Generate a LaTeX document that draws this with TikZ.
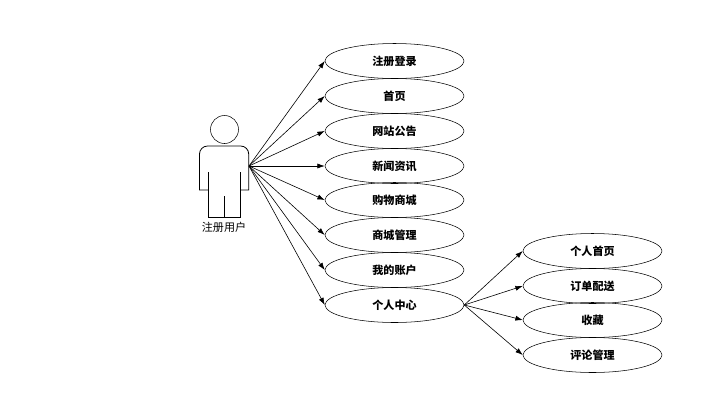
\documentclass[tikz,border=0pt]{standalone}
\usepackage{fontspec}
\newfontfamily\cjk{Noto Sans CJK SC}
\usetikzlibrary{shapes.geometric,arrows.meta}
\tikzset{
  usecase/.style={draw,ellipse,minimum width=104.25pt,minimum height=26.25pt,inner sep=0pt,
    font=\cjk\fontsize{8.3}{8.3}\selectfont\bfseries},
  link/.style={-{Latex[length=5.5pt,width=3.8pt]},line width=0.45pt},
}
\begin{document}
\begin{tikzpicture}[x=0.75pt,y=-0.75pt]
\useasboundingbox (0,0) rectangle (715,405);

\node[draw,circle,minimum size=21pt,inner sep=0pt] (head) at (224.5,129.5) {};
\draw[line width=0.6pt] (208,190)--(199.5,190)--(199.5,154) arc[start angle=180,end angle=90,radius=6pt]
  --(240.7,146) arc[start angle=90,end angle=0,radius=6pt]--(248.7,190)--(240.3,190);
\draw[line width=0.6pt] (208,172)--(208,217.7)--(240.3,217.7)--(240.3,172);
\draw[line width=0.6pt] (224.5,196)--(224.5,217.7);
\node[font=\cjk\fontsize{8.3}{8.3}\selectfont] (actorlabel) at (224,227) {注册用户};
\coordinate (hand) at (249,166);

\node[usecase] (login) at (394.5,61) {注册登录};
\node[usecase] (home) at (394.5,96) {首页};
\node[usecase] (notice) at (394.5,131) {网站公告};
\node[usecase] (news) at (394.5,166) {新闻资讯};
\node[usecase] (shop) at (394.5,200) {购物商城};
\node[usecase] (manage) at (394.5,235) {商城管理};
\node[usecase] (account) at (394.5,270) {我的账户};
\node[usecase] (center) at (394.5,305) {个人中心};

\node[usecase] (myhome) at (592.5,251) {个人首页};
\node[usecase] (orders) at (592.5,286) {订单配送};
\node[usecase] (favour) at (592.5,320) {收藏};
\node[usecase] (review) at (592.5,355) {评论管理};

\draw[link] (hand)--(login.west);
\draw[link] (hand)--(home.west);
\draw[link] (hand)--(notice.west);
\draw[link] (hand)--(news.west);
\draw[link] (hand)--(shop.west);
\draw[link] (hand)--(manage.west);
\draw[link] (hand)--(account.west);
\draw[link] (hand)--(center.west);

\draw[link] (center.east)--(myhome.west);
\draw[link] (center.east)--(orders.west);
\draw[link] (center.east)--(favour.west);
\draw[link] (center.east)--(review.west);
\end{tikzpicture}
\end{document}
